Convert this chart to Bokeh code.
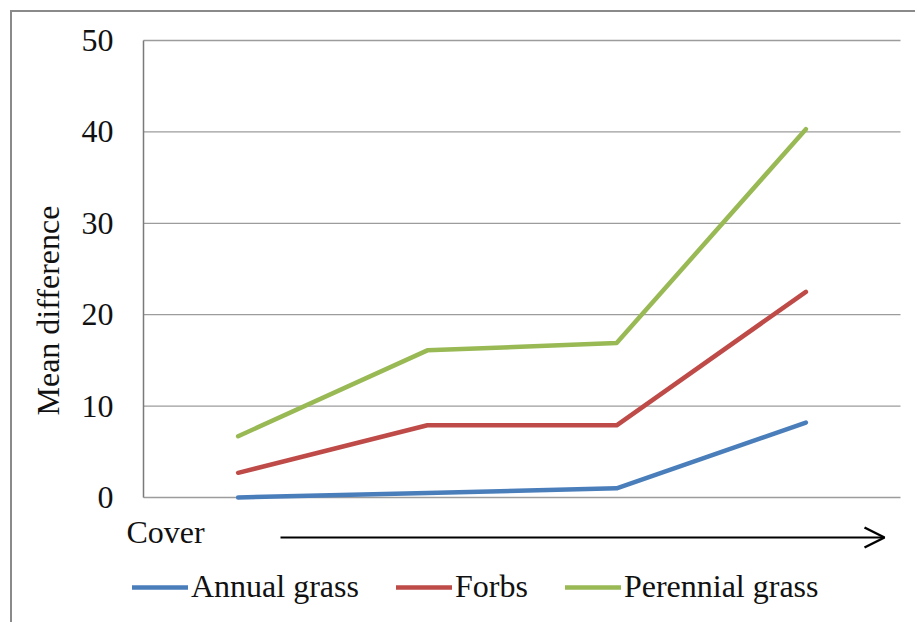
from bokeh.plotting import figure
from bokeh.models import (Range1d, FixedTicker, Label, Arrow, OpenHead,
                          Legend, LegendItem, LinearAxis, Title)
from bokeh.embed import file_html
from bokeh.resources import INLINE

# Cover classes (low -> high) and mean differences per functional group
cover_levels = [1, 2, 3, 4]
annual_grass = [0.0, 0.5, 1.0, 8.2]
forbs = [2.7, 7.9, 7.9, 22.5]
perennial_grass = [6.7, 16.1, 16.9, 40.3]

series_names = ["Annual grass", "Forbs", "Perennial grass"]
series_colors = ["#4A7EBB", "#BE4B48", "#98B954"]
y_ticks = [0, 10, 20, 30, 40, 50]

SERIF = "Liberation Serif"
FONT_SIZE = "32px"
TEXT_COLOR = "#111111"

# page geometry (pixels): chart-area frame offset, plot area and canvas
W, H = 917, 624
OFF = 12                      # 10px margin + 2px border line
FRAME_LEFT = 58               # canvas px where the drawing frame starts
PA_LEFT, PA_RIGHT = 143, 900  # plot area, page px
PA_TOP, PA_BOTTOM = 40, 497

ppx = (PA_RIGHT - PA_LEFT) / 4.0
ppy = (PA_BOTTOM - PA_TOP) / 50.0
x_lo = 0.5 - (PA_LEFT - (FRAME_LEFT + OFF)) / ppx
x_hi = 4.5 + (W - PA_RIGHT) / ppx
y_lo = -(H - PA_BOTTOM) / ppy
y_hi = 50 + (PA_TOP - OFF) / ppy


def xp(px):
    return 0.5 + (px - PA_LEFT) / ppx


def yp(py):
    return (PA_BOTTOM - py) / ppy


p = figure(width=W - OFF, height=H - OFF, output_backend="svg",
           toolbar_location=None, y_axis_location=None,
           x_range=Range1d(x_lo, x_hi), y_range=Range1d(y_lo, y_hi),
           min_border_left=FRAME_LEFT, min_border_right=0,
           min_border_top=0, min_border_bottom=0)
p.margin = (10, 0, 0, 10)
p.styles = {"border-left": "2px solid #8a8a8a", "border-top": "2px solid #8a8a8a"}
p.outline_line_color = None
p.background_fill_color = "white"
p.border_fill_color = "white"
p.xaxis.visible = False
p.xgrid.visible = False
p.ygrid.visible = False

# value axis pinned to the left edge of the plot area
yaxis = LinearAxis(fixed_location=0.5, bounds=(0, 50),
                   ticker=FixedTicker(ticks=y_ticks))
yaxis.axis_line_color = "#7a7a7a"
yaxis.axis_line_width = 1.5
yaxis.major_tick_out = 0
yaxis.major_tick_in = 0
yaxis.minor_tick_out = 0
yaxis.minor_tick_in = 0
yaxis.major_label_standoff = 30
yaxis.major_label_text_font = SERIF
yaxis.major_label_text_font_size = FONT_SIZE
yaxis.major_label_text_color = TEXT_COLOR
p.add_layout(yaxis, "left")

p.add_layout(Title(text="Mean difference", align="left", offset=H - 415,
                   text_font=SERIF, text_font_size=FONT_SIZE,
                   text_font_style="normal", text_color=TEXT_COLOR), "left")

# horizontal gridlines across the plot area
p.segment(x0=[0.5] * len(y_ticks), x1=[4.5] * len(y_ticks),
          y0=y_ticks, y1=y_ticks, line_color="#9c9c9c", line_width=1.3)

renderers = []
for vals, color in zip([annual_grass, forbs, perennial_grass], series_colors):
    r = p.line(cover_levels, vals, line_color=color, line_width=4.5,
               line_cap="round", line_join="round")
    renderers.append(r)

# cover gradient label and arrow
p.add_layout(Label(x=xp(126), y=yp(531), text="Cover", text_align="left",
                   text_baseline="middle", text_font=SERIF,
                   text_font_size=FONT_SIZE, text_color=TEXT_COLOR))
p.add_layout(Arrow(x_start=xp(280), y_start=yp(537), x_end=xp(884), y_end=yp(537),
                   line_color="black", line_width=2.2,
                   end=OpenHead(size=20, line_color="black", line_width=2.5)))

legend = Legend(items=[LegendItem(label=n, renderers=[r])
                       for n, r in zip(series_names, renderers)],
                orientation="horizontal",
                location=(132 - (FRAME_LEFT + OFF), H - 605),
                glyph_width=56, glyph_height=20, label_standoff=3,
                spacing=37, padding=0, margin=0,
                border_line_color=None, background_fill_alpha=0,
                label_text_font=SERIF, label_text_font_size=FONT_SIZE,
                label_text_color=TEXT_COLOR)
p.add_layout(legend)

open("out.html", "w").write(file_html(p, INLINE))
